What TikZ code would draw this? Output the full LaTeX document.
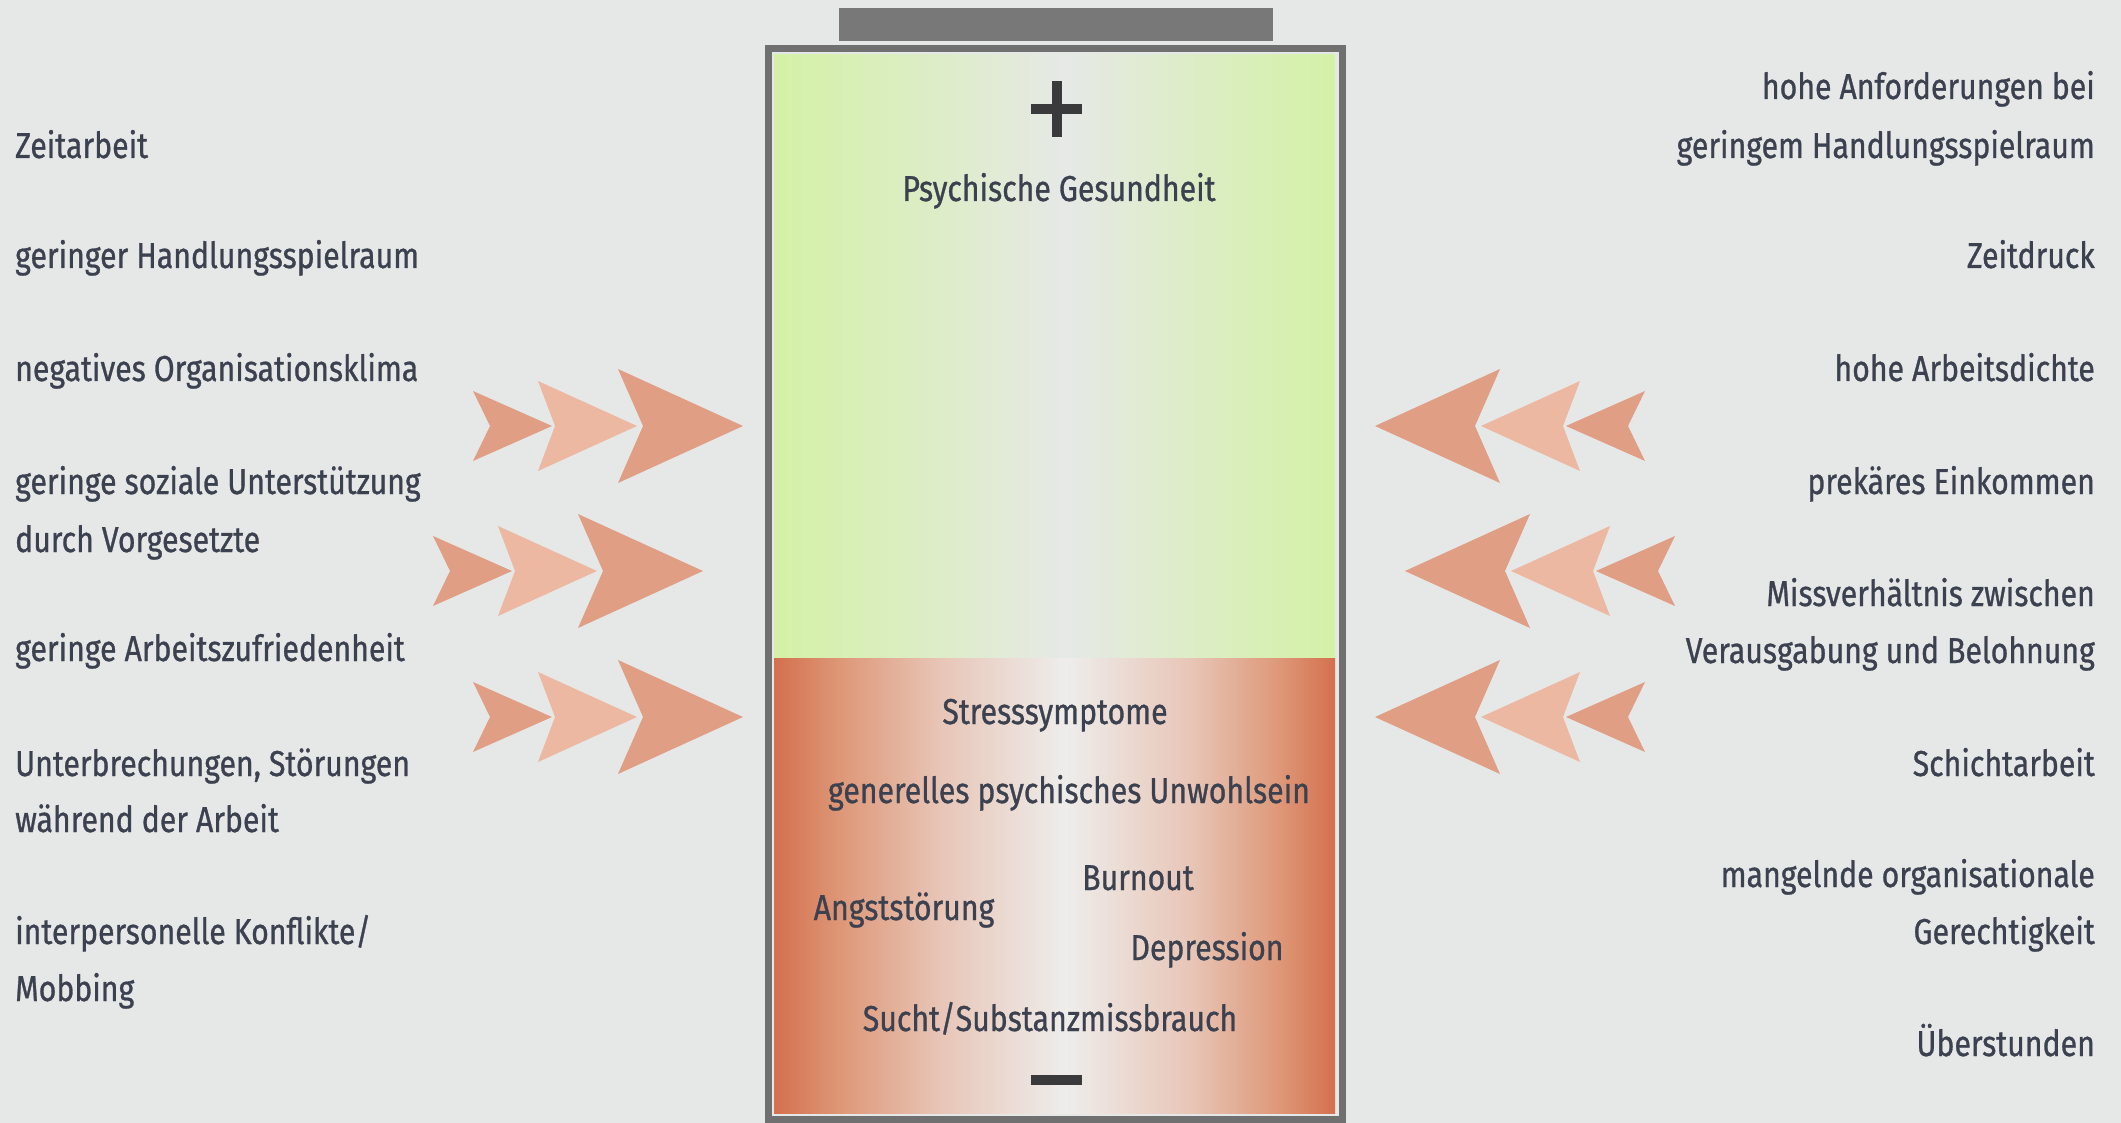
\documentclass[tikz,border=0pt]{standalone}
\usepackage{fontspec}
\setmainfont{Fira Sans}[FakeStretch=0.84,FakeBold=0.8]
\definecolor{bg}{HTML}{E6E8E8}
\definecolor{capc}{HTML}{787878}
\definecolor{outc}{HTML}{707070}
\definecolor{txt}{HTML}{3C4150}
\definecolor{signc}{HTML}{3A3A3C}
\definecolor{chevD}{HTML}{E09E85}
\definecolor{chevL}{HTML}{ECB8A1}
\definecolor{grE}{HTML}{D4F1A7}
\definecolor{grQ}{HTML}{DCEDC4}
\definecolor{grM}{HTML}{E6E9E6}
\definecolor{rdE}{HTML}{D4704E}
\definecolor{rdA}{HTML}{DE9878}
\definecolor{rdB}{HTML}{E8C6B8}
\definecolor{rdM}{HTML}{EEEDEB}
\pgfdeclarehorizontalshading{greenbat}{100bp}{color(0bp)=(grE); color(25bp)=(grE); color(38bp)=(grQ); color(51bp)=(grM); color(63bp)=(grQ); color(75bp)=(grE); color(100bp)=(grE)}
\pgfdeclarehorizontalshading{redbat}{100bp}{color(0bp)=(rdE); color(25bp)=(rdE); color(31bp)=(rdA); color(40bp)=(rdB); color(51bp)=(rdM); color(62bp)=(rdB); color(70bp)=(rdA); color(75bp)=(rdE); color(100bp)=(rdE)}
\newcommand\lblfont{\fontsize{36}{43}\selectfont}
\newcommand\chevgroup{%
  \fill[chevdark] (-270,-35) -- (-191,0) -- (-270,35) -- (-253,0) -- cycle;
  \fill[chevlight] (-205,-45) -- (-106,0) -- (-205,45) -- (-188,0) -- cycle;
  \fill[chevdark] (-125,-57) -- (0,0) -- (-125,57) -- (-100,0) -- cycle;}
\begin{document}
\begin{tikzpicture}[x=1pt,y=-1pt,
  lbl/.style={font=\lblfont,text=txt,inner sep=0pt},
  lleft/.style={lbl,anchor=base west},
  lright/.style={lbl,anchor=base east},
  lmid/.style={lbl,anchor=base},
  chevdark/.style={fill=chevD},
  chevlight/.style={fill=chevL},
  sign/.style={draw=signc,line width=10pt}]
\useasboundingbox (0,0) rectangle (2121,1123);
\fill[bg] (0,0) rectangle (2121,1123);
% battery
\fill[capc] (839,8) rectangle (1273,41);
\shade[shading=greenbat] (774,55) rectangle (1335,658);
\shade[shading=redbat] (774,658) rectangle (1335,1113);
\draw[outc,line width=7pt] (768,48.5) rectangle (1342,1119);
% signs
\draw[sign] (1031,109) -- (1082,109);
\draw[sign] (1056.5,81) -- (1056.5,137);
\draw[sign] (1031,1080) -- (1082,1080);
% chevrons left
\begin{scope}[shift={(743,426)}]\chevgroup\end{scope}
\begin{scope}[shift={(703,571)}]\chevgroup\end{scope}
\begin{scope}[shift={(743,717)}]\chevgroup\end{scope}
% chevrons right
\begin{scope}[shift={(1375,426)},xscale=-1]\chevgroup\end{scope}
\begin{scope}[shift={(1405,571)},xscale=-1]\chevgroup\end{scope}
\begin{scope}[shift={(1375,717)},xscale=-1]\chevgroup\end{scope}
% battery labels
\node[lmid] (pg) at (1059,201) {Psychische Gesundheit};
\node[lmid] (st) at (1055,724) {Stresssymptome};
\node[lmid] (gp) at (1069,803) {generelles psychisches Unwohlsein};
\node[lmid] (bo) at (1138,890) {Burnout};
\node[lmid] (an) at (904,920) {Angststörung};
\node[lmid] (de) at (1207,960) {Depression};
\node[lmid] (su) at (1050,1031) {Sucht/Substanzmissbrauch};
% left labels
\node[lleft] (l1) at (15,158) {Zeitarbeit};
\node[lleft] (l2) at (15,268) {geringer Handlungsspielraum};
\node[lleft] (l3) at (15,381) {negatives Organisationsklima};
\node[lleft] (l4a) at (15,494) {geringe soziale Unterstützung};
\node[lleft] (l4b) at (15,552) {durch Vorgesetzte};
\node[lleft] (l5) at (15,661) {geringe Arbeitszufriedenheit};
\node[lleft] (l6a) at (15,776) {Unterbrechungen, Störungen};
\node[lleft] (l6b) at (15,832) {während der Arbeit};
\node[lleft] (l7a) at (15,944) {interpersonelle Konflikte/};
\node[lleft] (l7b) at (15,1001) {Mobbing};
% right labels
\node[lright] (r1a) at (2095,99) {hohe Anforderungen bei};
\node[lright] (r1b) at (2095,158) {geringem Handlungsspielraum};
\node[lright] (r2) at (2095,268) {Zeitdruck};
\node[lright] (r3) at (2095,381) {hohe Arbeitsdichte};
\node[lright] (r4) at (2095,494) {prekäres Einkommen};
\node[lright] (r5a) at (2095,606) {Missverhältnis zwischen};
\node[lright] (r5b) at (2095,663) {Verausgabung und Belohnung};
\node[lright] (r6) at (2095,776) {Schichtarbeit};
\node[lright] (r7a) at (2095,887) {mangelnde organisationale};
\node[lright] (r7b) at (2095,944) {Gerechtigkeit};
\node[lright] (r8) at (2095,1056) {Überstunden};
\end{tikzpicture}
\end{document}
